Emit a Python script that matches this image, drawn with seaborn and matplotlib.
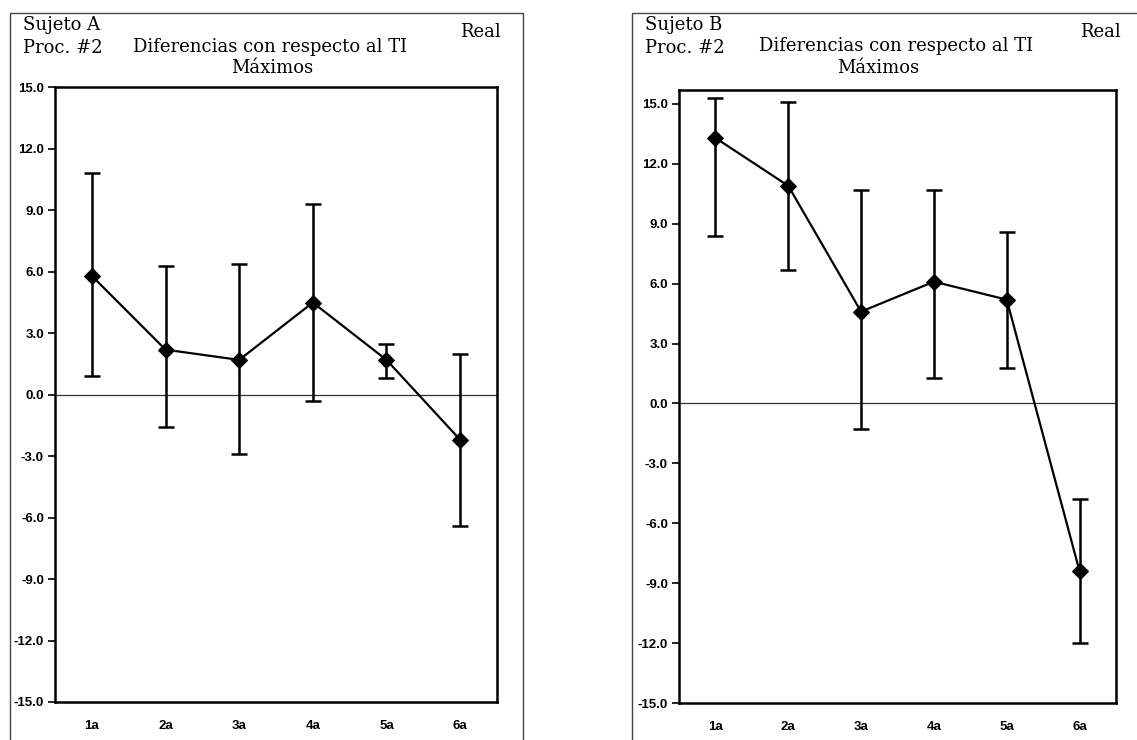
import numpy as np
import pandas as pd
import matplotlib
matplotlib.use("Agg")
import matplotlib.pyplot as plt
import seaborn as sns
from matplotlib.patches import Rectangle

# categories (sessions)
categories = ["1a", "2a", "3a", "4a", "5a", "6a"]

# Sujeto A - means and error bar limits
a_mean = [5.8, 2.2, 1.7, 4.5, 1.7, -2.2]
a_low = [0.9, -1.6, -2.9, -0.3, 0.8, -6.4]
a_high = [10.8, 6.3, 6.4, 9.3, 2.5, 2.0]

# Sujeto B - means and error bar limits
b_mean = [13.3, 10.9, 4.6, 6.1, 5.2, -8.4]
b_low = [8.4, 6.7, -1.3, 1.3, 1.8, -12.0]
b_high = [15.3, 15.1, 10.7, 10.7, 8.6, -4.8]

y_ticks = [15, 12, 9, 6, 3, 0, -3, -6, -9, -12, -15]
y_ticklabels = ["%.1f" % v for v in y_ticks]

sns.set_style("white")
plt.rcParams['font.family'] = ['DejaVu Serif']
plt.rcParams['text.color'] = 'black'
plt.rcParams['xtick.color'] = 'black'
plt.rcParams['ytick.color'] = 'black'

fig = plt.figure(figsize=(11.37, 7.40), dpi=100)

panels = [
    dict(mean=a_mean, low=a_low, high=a_high, pos=[0.0484, 0.0514, 0.3887, 0.8304],
         ylim=(-15, 15), subj="Sujeto A", box=(0.0088, 0.4600), tx=0.2375, mx=0.2392, ty=0.9365, my=0.9081,
         rx=0.4222),
    dict(mean=b_mean, low=b_low, high=b_high, pos=[0.5972, 0.0500, 0.3843, 0.8284],
         ylim=(-15, 15.7), subj="Sujeto B", box=(0.5559, 1.02), tx=0.7880, mx=0.7722, ty=0.9380, my=0.9080,
         rx=0.9675),
]

for p in panels:
    ax = fig.add_axes(p["pos"])
    df = pd.DataFrame({"sesion": categories, "valor": p["mean"]})
    mean = np.array(p["mean"])
    low = np.array(p["low"])
    high = np.array(p["high"])
    xs = np.arange(len(categories))

    ax.axhline(0, color="#333333", lw=0.9, zorder=1)
    ax.errorbar(xs, mean, yerr=[mean - low, high - mean], fmt="none",
                ecolor="black", elinewidth=1.8, capsize=6, capthick=1.8, zorder=2)
    sns.lineplot(data=df, x="sesion", y="valor", ax=ax, color="black", lw=1.6,
                 marker="D", markersize=8, markeredgecolor="black", sort=False, zorder=3)

    ax.set_xlim(-0.5, 5.5)
    ax.set_ylim(*p["ylim"])
    ax.set_yticks(y_ticks)
    ax.set_yticklabels(y_ticklabels, fontfamily="Liberation Sans", fontsize=9.5, fontweight="bold")
    ax.set_xticks(xs)
    ax.set_xticklabels(categories, fontfamily="Liberation Sans", fontsize=9.5, fontweight="bold")
    ax.tick_params(axis="y", left=True, length=5, width=1.2, pad=3)
    ax.tick_params(axis="x", bottom=False, length=0, pad=13)
    ax.set_xlabel("")
    ax.set_ylabel("")
    for s in ax.spines.values():
        s.set_color("black")
        s.set_linewidth(1.8)

    # outer frame around the panel
    x0, x1 = p["box"]
    fig.add_artist(Rectangle((x0, -0.05), x1 - x0, 0.983 + 0.05, transform=fig.transFigure,
                             fill=False, edgecolor="#444444", lw=1.0, clip_on=False))

    fig.text(x0 + 0.011, 0.9662, p["subj"], fontsize=13, va="center", ha="left")
    fig.text(x0 + 0.011, 0.9351, "Proc. #2", fontsize=13, va="center", ha="left")
    fig.text(p["tx"], p["ty"], "Diferencias con respecto al TI", fontsize=13, va="center", ha="center")
    fig.text(p["mx"], p["my"], "Máximos", fontsize=13, va="center", ha="center")
    fig.text(p["rx"], 0.9568, "Real", fontsize=13, va="center", ha="center")

fig.savefig("out.png", dpi=100)
